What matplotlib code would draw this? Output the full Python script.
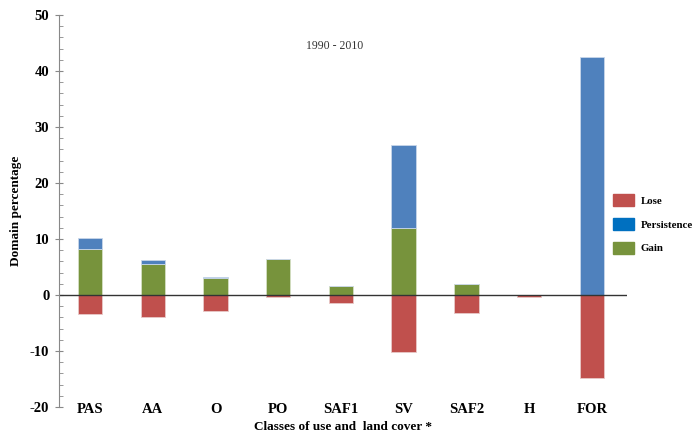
import numpy as np
import matplotlib.pyplot as plt
from matplotlib.patches import Patch
from matplotlib.ticker import MultipleLocator

# Datos (porcentaje del dominio)
classes = ["PAS", "AA", "O", "PO", "SAF1", "SV", "SAF2", "H", "FOR"]
lose = [-3.4, -4.0, -2.8, -0.4, -1.4, -10.2, -3.3, -0.3, -14.8]
gain = [8.2, 5.5, 3.0, 6.4, 1.6, 12.0, 1.9, 0.0, 0.0]
persistence = [2.0, 0.8, 0.3, 0.1, 0.0, 14.8, 0.1, 0.0, 42.5]

RED, BLUE, GREEN = "#c0504d", "#4f81bd", "#77933c"

plt.rcParams["font.family"] = ["Liberation Serif", "DejaVu Serif"]
plt.rcParams["axes.unicode_minus"] = False

fig = plt.figure(figsize=(6.99, 4.34), dpi=100)
ax = fig.add_axes([59 / 699, 1 - 407 / 434, (627 - 59) / 699, (407 - 15) / 434])

x = np.arange(len(classes))
w = 0.39
ax.bar(x, lose, w, color=RED, edgecolor="#e8c9c8", linewidth=0.6)
ax.bar(x, gain, w, color=GREEN, edgecolor="#d5dfc4", linewidth=0.6)
ax.bar(x, persistence, w, bottom=gain, color=BLUE, edgecolor="#c8d6ea", linewidth=0.6)

ax.axhline(0, color="#333333", linewidth=1.0)

ax.set_xlim(-0.495, 8.56)
ax.set_ylim(-20, 50)
ax.yaxis.set_major_locator(MultipleLocator(10))
ax.yaxis.set_minor_locator(MultipleLocator(2))
ax.tick_params(axis="y", which="major", direction="inout", length=6, color="#888888",
               labelsize=10.5, pad=4)
ax.tick_params(axis="y", which="minor", direction="in", length=3, color="#888888")
for lab in ax.get_yticklabels():
    lab.set_fontweight("bold")

ax.set_xticks(x)
ax.set_xticklabels(classes, fontweight="bold", fontsize=10.5)
ax.tick_params(axis="x", length=0, pad=-3)

for s in ["top", "right", "bottom"]:
    ax.spines[s].set_visible(False)
ax.spines["left"].set_color("#888888")

ax.set_ylabel("Domain percentage", fontweight="bold", fontsize=9.5, labelpad=6)
ax.set_xlabel("Classes of use and  land cover *", fontweight="bold", fontsize=9.5, labelpad=4)

ax.text(3.9, 44.5, "1990 - 2010", ha="center", va="center", fontsize=8.5, color="#333333")

handles = [Patch(color=RED, label="Lose"),
           Patch(color="#0070c0", label="Persistence"),
           Patch(color=GREEN, label="Gain")]
fig.legend(handles=handles, loc="center left", bbox_to_anchor=(610 / 699, 1 - 224 / 434),
           frameon=False, prop={"weight": "bold", "size": 7.8},
           handlelength=1.9, handleheight=1.3, labelspacing=1.1, handletextpad=0.6,
           borderaxespad=0, borderpad=0.3)

fig.savefig("out.png", dpi=100)
